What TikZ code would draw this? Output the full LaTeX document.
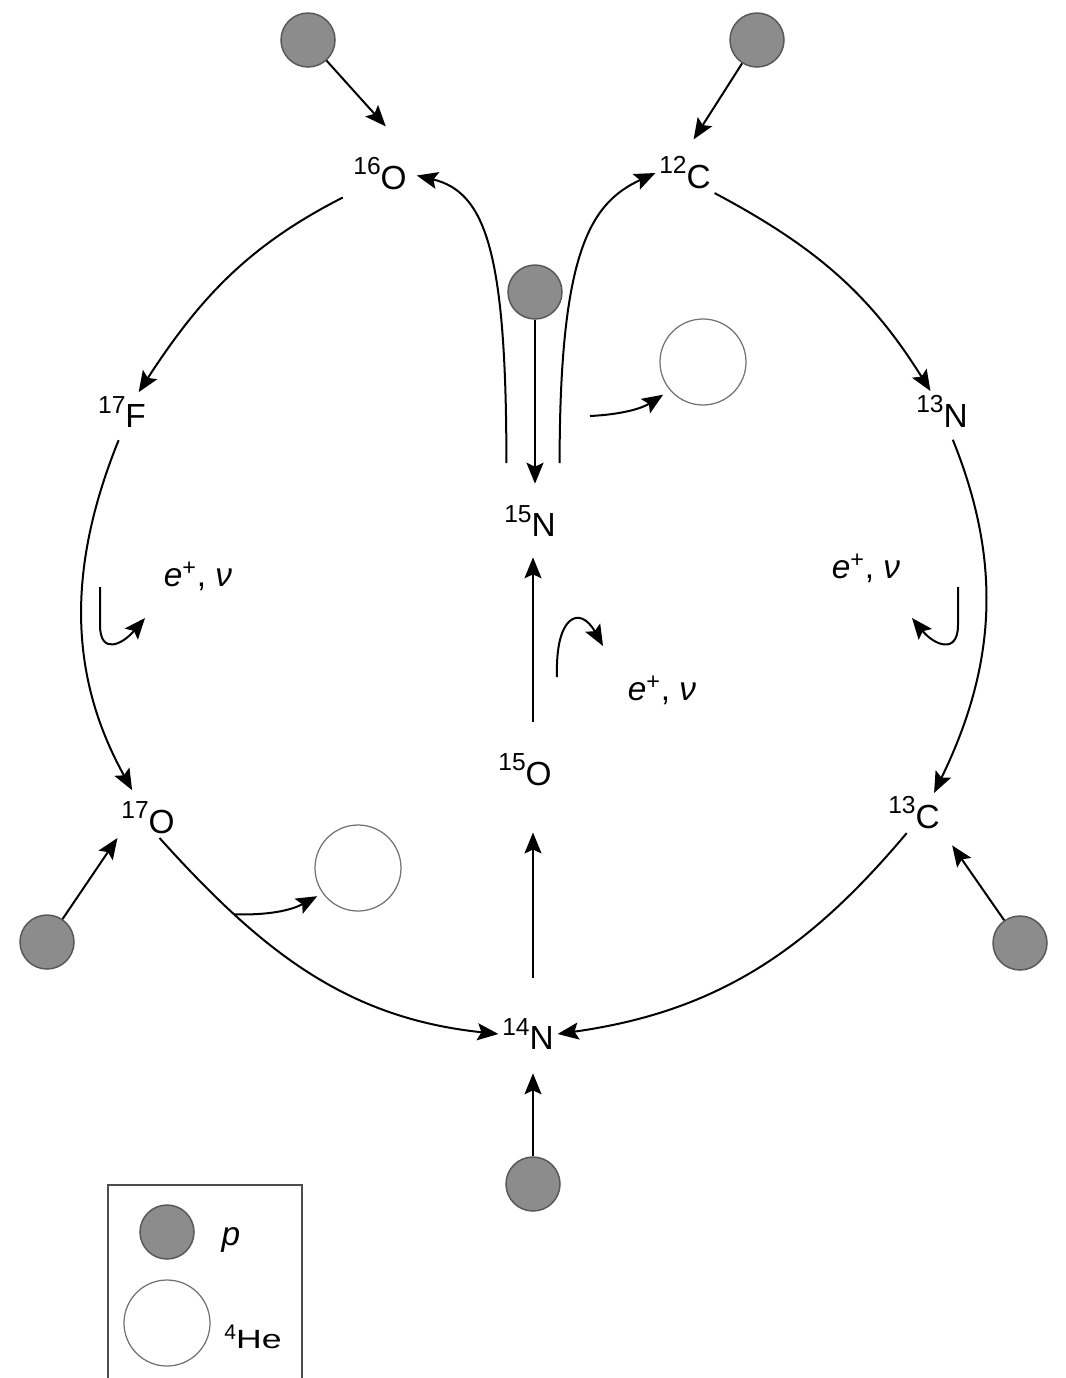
\documentclass[tikz,border=0pt]{standalone}
\usepackage{fontspec}
\setmainfont{Liberation Sans}
\usetikzlibrary{arrows.meta}
\newcommand{\nuc}[2]{\raisebox{8.5pt}{\fontsize{14}{14}\selectfont #1}#2}
\newcommand{\epnu}{\textit{e}\textsuperscript{+}, \textit{ν}}

\begin{document}
\begin{tikzpicture}[x=0.2mm,y=0.2mm,
  font=\fontsize{19}{21}\selectfont,
  >={Stealth[length=4.2mm,width=3.4mm,inset=0.8mm]},
  arr/.style={->,line width=0.4mm},
  iso/.style={inner sep=2pt},
  prot/.style={circle,draw=black!65,line width=0.3mm,fill=black!45,minimum size=10.8mm,inner sep=0pt},
  alpha/.style={circle,draw=black!55,line width=0.25mm,minimum size=17.2mm,inner sep=0pt}]
  \useasboundingbox (0,0) rectangle (1066,-1378);
  % nuclei of the cycle
  \node[iso] (O16) at (380,-174) {\nuc{16}{O}};
  \node[iso] (C12) at (685,-173) {\nuc{12}{C}};
  \node[iso] (F17) at (122,-412) {\nuc{17}{F}};
  \node[iso] (N13) at (942,-411) {\nuc{13}{N}};
  \node[iso] (N15) at (530,-521) {\nuc{15}{N}};
  \node[iso] (O15) at (525,-770) {\nuc{15}{O}};
  \node[iso] (O17) at (148,-818) {\nuc{17}{O}};
  \node[iso] (C13) at (914,-813) {\nuc{13}{C}};
  \node[iso] (N14) at (528,-1034) {\nuc{14}{N}};
  % protons and alphas
  \node[prot] (pA) at (308,-40) {};
  \node[prot] (pB) at (757,-40) {};
  \node[prot] (pC) at (535,-292) {};
  \node[prot] (pD) at (47,-942) {};
  \node[prot] (pE) at (1020,-943) {};
  \node[prot] (pF) at (533,-1184) {};
  \node[alpha] (heA) at (703,-362) {};
  \node[alpha] (heB) at (358,-868) {};
  % decay labels
  \node (dL) at (198,-576) {\epnu};
  \node (dR) at (866,-568) {\epnu};
  \node (dM) at (662,-690) {\epnu};
  % proton captures
  \draw[arr,shorten >=7.4mm] (pA) -- (O16.north east);
  \draw[arr,shorten >=3.2mm] (pB) -- (C12.north);
  \draw[arr] (pD) -- (O17.south west);
  \draw[arr,shorten >=3mm] (pE) -- (C13.south east);
  \draw[arr,shorten >=3.9mm] (pF) -- (pF |- N14.south);
  \draw[arr,shorten >=3.5mm] (pC) -- (pC |- N15.north);
  % CNO cycle
  \draw[arr,shorten <=1.5mm] (O16.south west) to[out=207,in=57] (F17.50);
  \draw[arr,shorten <=1.8mm,shorten >=1.8mm] (F17.south) to[out=-112,in=119] (O17.120);
  \draw[arr] (O17.-60) to[out=-48,in=174] coordinate[pos=0.25] (emitB) (N14.west);
  \draw[arr] (C13.-110) to[out=-130,in=8] (N14.east);
  \draw[arr] (C12.south east) to[out=-28,in=122] (N13.120);
  \draw[arr,shorten <=1.9mm] (N13.-70) to[out=-68,in=64] (C13.45);
  \draw[arr,shorten <=7.3mm,shorten >=8.5mm] (N14.north -| pF) -- (O15.south -| pF);
  \draw[arr,shorten <=5.7mm,shorten >=3.3mm] (O15.north -| pF) -- (N15.south -| pF);
  \draw[arr,shorten <=7.6mm,shorten >=1.3mm] (N15.140) to[out=90,in=-13.5,out distance=50mm,in distance=15.4mm] (O16.east);
  \draw[arr,shorten <=7.6mm] (N15.north east) to[out=90,in=204.8,out distance=50mm,in distance=14.3mm] (C12.west);
  % alpha emission
  \coordinate (emitA) at (590,-416);
  \draw[arr,shorten >=1.6mm] (emitA) to[bend right=15] (heA);
  \draw[arr,shorten >=1.2mm] (emitB) to[bend right=15] (heB);
  % beta decays
  \draw[arr] (100,-587) -- (100,-625) .. controls (100,-655) and (122,-645) .. (145,-618);
  \draw[arr] (958,-587) -- (958,-625) .. controls (958,-655) and (934,-645) .. (912,-618);
  \draw[arr] (557,-677) .. controls (555,-615) and (580,-605) .. (603,-646);
  % legend
  \draw[line width=0.3mm,black!70] (108,-1378) |- (302,-1185) -- (302,-1378);
  \node[prot] (pL) at (167,-1232) {};
  \node (pLbl) at (231,-1240) {\textit{p}};
  \node[alpha] (heL) at (167,-1323) {};
  \node (heLbl) at (253,-1337) {\raisebox{5pt}{\fontsize{12}{12}\selectfont 4}\scalebox{1.35}[1]{\fontsize{15}{16}\selectfont He}};
\end{tikzpicture}
\end{document}
